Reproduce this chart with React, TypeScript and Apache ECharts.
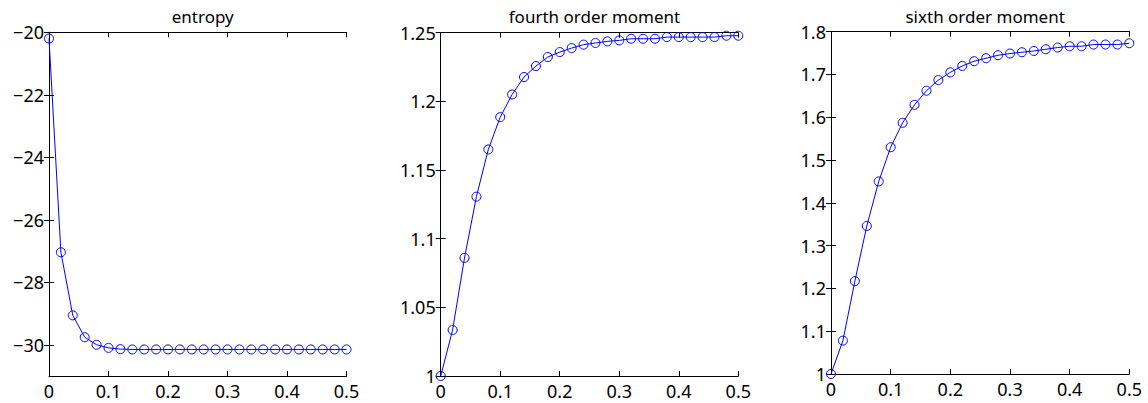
import React, { useEffect, useRef } from "react";
import * as echarts from "echarts";

const xValues = [0, 0.02, 0.04, 0.06, 0.08, 0.1, 0.12, 0.14, 0.16, 0.18, 0.2, 0.22, 0.24, 0.26, 0.28, 0.3, 0.32, 0.34, 0.36, 0.38, 0.4, 0.42, 0.44, 0.46, 0.48, 0.5];

const entropy = [-20.2, -27.04, -29.06, -29.76, -30.0, -30.1, -30.14, -30.15, -30.15, -30.15, -30.15, -30.15, -30.15, -30.15, -30.15, -30.15, -30.15, -30.15, -30.15, -30.15, -30.15, -30.15, -30.15, -30.15, -30.15, -30.15];

const fourth = [1.0, 1.0335, 1.086, 1.1306, 1.165, 1.1885, 1.205, 1.2177, 1.2257, 1.2323, 1.2359, 1.2388, 1.2413, 1.2425, 1.2437, 1.2444, 1.2456, 1.2456, 1.2456, 1.2468, 1.2468, 1.2468, 1.2468, 1.2468, 1.2478, 1.2478];

const sixth = [1.0, 1.078, 1.217, 1.346, 1.45, 1.53, 1.587, 1.629, 1.662, 1.687, 1.705, 1.72, 1.731, 1.738, 1.745, 1.749, 1.752, 1.755, 1.759, 1.763, 1.766, 1.766, 1.77, 1.77, 1.77, 1.773];

const titles = ["entropy", "fourth order moment", "sixth order moment"];
const entropyTicks = [-30, -28, -26, -24, -22, -20];

const FONT = "Noto Sans";

export default function App() {
  const ref = useRef<HTMLDivElement>(null);
  useEffect(() => {
    if (!ref.current) return;
    const chart = echarts.init(ref.current, null, { renderer: "svg" });

    const grids = [
      { left: 49, top: 32.3, width: 297.5, height: 343.7 },
      { left: 440.7, top: 32.7, width: 297.6, height: 343.3 },
      { left: 831, top: 31.7, width: 298.3, height: 342.3 },
    ];

    const yRanges = [
      { min: -31, max: -20 },
      { min: 1, max: 1.25, interval: 0.05 },
      { min: 1, max: 1.8, interval: 0.1 },
    ];

    const seriesData = [entropy, fourth, sixth];
    const fmt = (v: number) => String(v).replace("-", "\u2212");

    const axisLine = { show: true, lineStyle: { color: "#000", width: 1 } };
    const labelStyle = { color: "#000", fontFamily: FONT, fontSize: 18 };

    const xAxis: any[] = [];
    const yAxis: any[] = [];
    const series: any[] = [];
    const title: any[] = [];

    grids.forEach((g, i) => {
      xAxis.push({
        type: "value",
        gridIndex: i,
        position: "bottom",
        min: 0,
        max: 0.5,
        interval: 0.1,
        axisLine,
        axisTick: { show: true, inside: true, length: 5, lineStyle: { color: "#000" } },
        axisLabel: { ...labelStyle, margin: 6, formatter: fmt },
        splitLine: { show: false },
      });
      xAxis.push({
        type: "value",
        gridIndex: i,
        position: "top",
        min: 0,
        max: 0.5,
        interval: 0.1,
        axisLine,
        axisTick: { show: true, inside: true, length: 5, lineStyle: { color: "#000" } },
        axisLabel: { show: false },
        splitLine: { show: false },
      });
      const yr: any = yRanges[i];
      const yCommon: any = {
        type: "value",
        gridIndex: i,
        min: yr.min,
        max: yr.max,
        splitLine: { show: false },
        axisLine,
      };
      if (yr.interval) yCommon.interval = yr.interval;
      const tickCustom = i === 0 ? { customValues: entropyTicks } : {};
      yAxis.push({
        ...yCommon,
        position: "left",
        axisTick: { show: true, inside: true, length: 5, lineStyle: { color: "#000" }, ...tickCustom },
        axisLabel: { ...labelStyle, margin: 5, formatter: fmt, ...(i === 0 ? { customValues: entropyTicks } : {}) },
      });
      yAxis.push({
        ...yCommon,
        position: "right",
        axisTick: { show: true, inside: true, length: 5, lineStyle: { color: "#000" }, ...tickCustom },
        axisLabel: { show: false },
      });
      series.push({
        type: "line",
        xAxisIndex: i * 2,
        yAxisIndex: i * 2,
        data: xValues.map((x, k) => [x, seriesData[i][k]]),
        symbol: "circle",
        symbolSize: 9,
        clip: false,
        color: "#0000ff",
        lineStyle: { color: "#0000ff", width: 1 },
        itemStyle: { color: "rgba(0,0,0,0)", borderColor: "#0000ff", borderWidth: 1 },
        emphasis: { disabled: true },
      });
      title.push({
        text: titles[i],
        left: g.left + g.width / 2,
        top: 3,
        textAlign: "center",
        textStyle: { color: "#000", fontFamily: FONT, fontSize: 17, fontWeight: "normal" },
      });
    });

    chart.setOption({
      animation: false,
      backgroundColor: "#fff",
      title,
      grid: grids.map((g) => ({ ...g, containLabel: false })),
      xAxis,
      yAxis,
      series,
    });
    return () => chart.dispose();
  }, []);
  return (
    <div
      ref={ref}
      style={{ position: "absolute", left: 0, top: 0, width: 1148, height: 403 }}
    />
  );
}
